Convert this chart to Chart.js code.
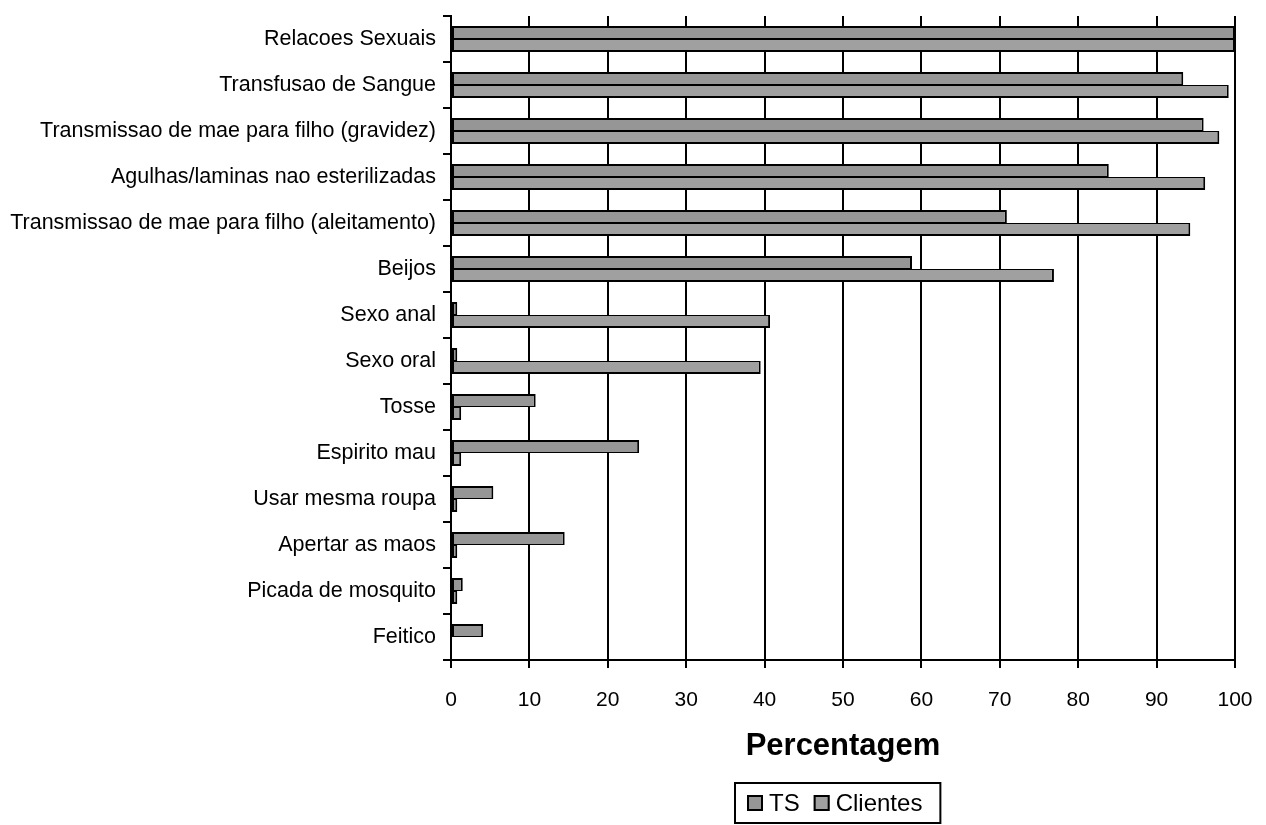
<!DOCTYPE html>
<html>
<head>
<meta charset="utf-8">
<script src="https://cdn.jsdelivr.net/npm/chart.js@4/dist/chart.umd.min.js"></script>
<style>
  html, body { margin: 0; padding: 0; background: #fff; }
  #wrap { width: 1266px; height: 825px; }
</style>
</head>
<body>
<div id="wrap"><canvas id="c" width="1266" height="825"></canvas></div>
<script>
// Modos de transmissao do HIV referidos (%)
const categories = [
  'Relacoes Sexuais',
  'Transfusao de Sangue',
  'Transmissao de mae para filho (gravidez)',
  'Agulhas/laminas nao esterilizadas',
  'Transmissao de mae para filho (aleitamento)',
  'Beijos',
  'Sexo anal',
  'Sexo oral',
  'Tosse',
  'Espirito mau',
  'Usar mesma roupa',
  'Apertar as maos',
  'Picada de mosquito',
  'Feitico'
];
const tsValues       = [100, 93.4, 96.0, 83.9, 70.9, 58.8, 0.8, 0.8, 10.8, 24.0, 5.4, 14.5, 1.5, 4.1];
const clientesValues = [100, 99.2, 98.0, 96.2, 94.3, 76.9, 40.7, 39.5, 1.3, 1.3, 0.8, 0.8, 0.8, 0];
const xTicks = [0, 10, 20, 30, 40, 50, 60, 70, 80, 90, 100];
const seriesNames = ['TS', 'Clientes'];

const FONT = "'Liberation Sans', Arial, sans-serif";

// Legend drawn as a framed box under the axis title
const boxedLegend = {
  id: 'boxedLegend',
  afterDraw(chart) {
    const ctx = chart.ctx;
    const area = chart.chartArea;
    const cx = (area.left + area.right) / 2 - 5;
    const top = 783, h = 40;
    ctx.save();
    ctx.font = '24px ' + FONT;
    const sw = 16, gap = 6, itemGap = 14, padL = 12, padR = 18;
    const items = chart.data.datasets.map(d => ({
      label: d.label, color: d.backgroundColor,
      w: sw + gap + ctx.measureText(d.label).width
    }));
    const inner = items.reduce((s, it) => s + it.w, 0) + itemGap * (items.length - 1);
    const w = inner + padL + padR;
    const left = Math.round(cx - w / 2);
    ctx.strokeStyle = '#000';
    ctx.lineWidth = 2;
    ctx.strokeRect(left, top, w, h);
    let x = left + padL;
    const cy = top + h / 2;
    ctx.textBaseline = 'middle';
    items.forEach(it => {
      ctx.fillStyle = it.color;
      ctx.fillRect(x, cy - sw / 2, sw, sw);
      ctx.strokeStyle = '#000';
      ctx.lineWidth = 2;
      ctx.strokeRect(x + 1, cy - sw / 2 + 1, sw - 2, sw - 2);
      ctx.fillStyle = '#000';
      ctx.fillText(it.label, x + sw + gap, cy + 1);
      x += it.w + itemGap;
    });
    ctx.restore();
  }
};

new Chart(document.getElementById('c'), {
  type: 'bar',
  data: {
    labels: categories,
    datasets: [
      { label: seriesNames[0], data: tsValues, backgroundColor: '#969696',
        borderColor: '#000', borderWidth: { top: 2, left: 2, right: 2, bottom: 1 } },
      { label: seriesNames[1], data: clientesValues, backgroundColor: '#a0a0a0',
        borderColor: '#000', borderWidth: { top: 1, left: 2, right: 2, bottom: 2 } }
    ]
  },
  options: {
    indexAxis: 'y',
    responsive: false,
    animation: false,
    devicePixelRatio: 1,
    layout: { padding: { top: 16, right: 31, bottom: 0, left: 0 } },
    datasets: { bar: { barThickness: 13, borderSkipped: false, inflateAmount: 0 } },
    plugins: {
      legend: { display: false },
      tooltip: { enabled: false }
    },
    scales: {
      x: {
        type: 'linear',
        min: 0, max: 100,
        afterBuildTicks(scale) { scale.ticks = xTicks.map(v => ({ value: v })); },
        afterFit(scale) { scale.height = 165; scale.paddingLeft = 0; scale.paddingRight = 0; },
        ticks: { color: '#000', font: { family: FONT, size: 21 }, padding: 20 },
        grid: { color: '#000', lineWidth: 2, tickLength: 8, drawOnChartArea: true },
        border: { color: '#000', width: 2 },
        title: {
          display: true, text: 'Percentagem', color: '#000',
          font: { family: FONT, size: 31, weight: 'bold' },
          padding: { top: 18, bottom: 60 }
        }
      },
      y: {
        type: 'category',
        afterFit(scale) { scale.width = 451; scale.paddingTop = 0; scale.paddingBottom = 0; },
        ticks: { color: '#000', font: { family: FONT, size: 21.5 }, padding: 7, autoSkip: false },
        grid: { color: '#000', lineWidth: 2, tickLength: 8, drawOnChartArea: false, offset: true },
        border: { color: '#000', width: 2 }
      }
    }
  },
  plugins: [boxedLegend]
});
</script>
</body>
</html>
